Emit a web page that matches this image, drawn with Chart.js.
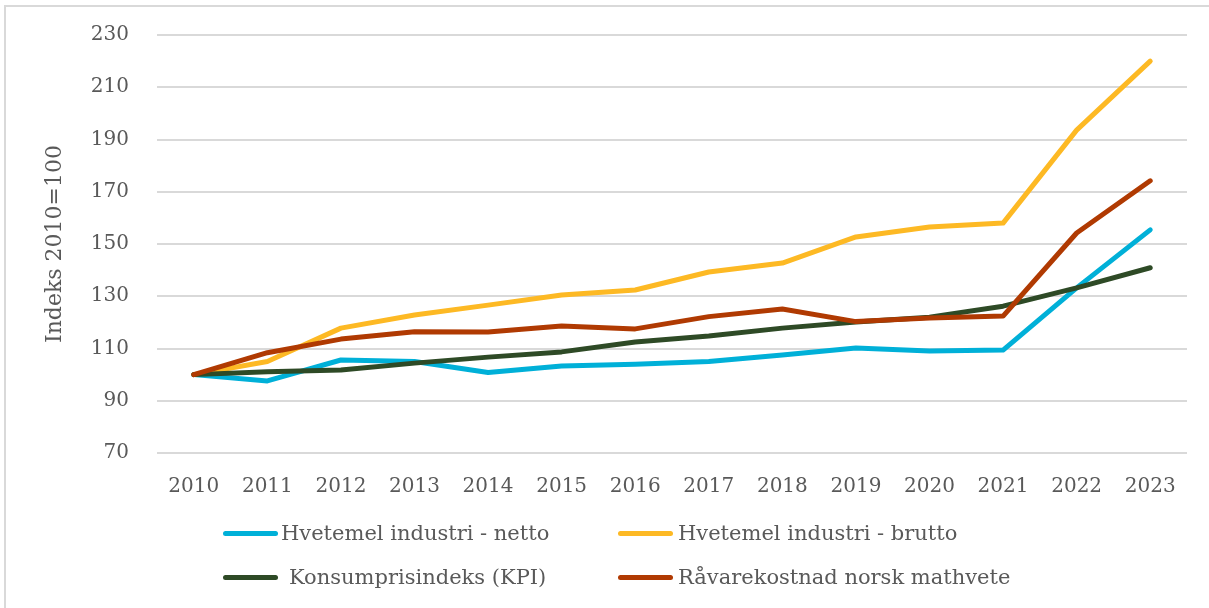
<!DOCTYPE html>
<html>
<head>
<meta charset="utf-8">
<script src="https://cdn.jsdelivr.net/npm/chart.js@4/dist/chart.umd.min.js"></script>
<style>
  html, body { margin: 0; padding: 0; background: #fff; }
  #wrap { position: relative; width: 1209px; height: 608px; overflow: hidden; }
  #frame { position: absolute; left: 4px; top: 5px; width: 1300px; height: 700px;
           border-left: 2px solid #d9d9d9; border-top: 2px solid #d9d9d9; box-sizing: border-box; }
  canvas { position: absolute; left: 0; top: 0; }
  .leg { position: absolute; font-family: "DejaVu Serif", serif; font-size: 21px; color: #595959;
         white-space: nowrap; line-height: 24px; }
  .leg .sw { position: absolute; height: 5px; border-radius: 3px; top: 10px; }
</style>
</head>
<body>
<div id="wrap">
  <div id="frame"></div>
  <canvas id="c" width="1209" height="608"></canvas>
  <div id="legend"></div>
</div>
<script>
const categories = ["2010","2011","2012","2013","2014","2015","2016","2017","2018","2019","2020","2021","2022","2023"];
const netto   = [100, 97.6, 105.6, 105.0, 100.8, 103.3, 104.0, 105.0, 107.5, 110.2, 109.0, 109.4, 133.2, 155.4];
const brutto  = [100, 105.0, 117.8, 122.8, 126.6, 130.5, 132.4, 139.3, 142.7, 152.7, 156.5, 158.0, 193.6, 220.0];
const kpi     = [100, 101.1, 101.8, 104.4, 106.7, 108.7, 112.5, 114.8, 117.8, 120.1, 122.0, 126.2, 133.2, 140.9];
const raavare = [100, 108.4, 113.6, 116.4, 116.3, 118.6, 117.5, 122.2, 125.1, 120.3, 121.7, 122.4, 154.2, 174.2];
const seriesNames = ["Hvetemel industri - netto", "Hvetemel industri - brutto", "Konsumprisindeks (KPI)", "Råvarekostnad norsk mathvete"];
const seriesColors = ["#00B0D8", "#FDB924", "#2E4A26", "#B03A02"];
const yTicks = [70, 90, 110, 130, 150, 170, 190, 210, 230];
const yTitle = "Indeks 2010=100";

const seriesValues = [netto, brutto, kpi, raavare];
const datasets = seriesValues.map((vals, i) => ({
  label: seriesNames[i],
  data: vals,
  borderColor: seriesColors[i],
  backgroundColor: seriesColors[i],
  borderWidth: 5,
  pointRadius: 0,
  tension: 0,
  borderCapStyle: 'round',
  borderJoinStyle: 'round',
  order: 4 - i
}));

const textColor = "#595959";
new Chart(document.getElementById('c'), {
  type: 'line',
  data: { labels: categories, datasets },
  options: {
    responsive: false,
    maintainAspectRatio: false,
    animation: false,
    layout: { padding: { left: 38, top: 35, right: 22, bottom: 0 } },
    plugins: { legend: { display: false }, tooltip: { enabled: false } },
    scales: {
      x: {
        offset: true,
        grid: { display: false, drawTicks: false },
        border: { display: false },
        ticks: { color: textColor, font: { family: "DejaVu Serif", size: 20 }, padding: 22, maxRotation: 0, autoSkip: false },
        afterFit: s => { s.height = 155; }
      },
      y: {
        min: yTicks[0], max: yTicks[yTicks.length - 1],
        afterBuildTicks: s => { s.ticks = yTicks.map(v => ({ value: v })); },
        grid: { color: "#d9d9d9", lineWidth: 2, drawTicks: false },
        border: { display: false },
        ticks: { color: textColor, font: { family: "DejaVu Serif", size: 20 }, padding: 28 },
        title: { display: true, text: yTitle, color: textColor, font: { family: "DejaVu Serif", size: 22 }, padding: { top: 4, bottom: 0 } },
        afterFit: s => { s.width = 119; s.paddingTop = 12; s.paddingBottom = 12; }
      }
    }
  }
});

// legend
const legPos = [
  { sx: 223, tx: 281, y: 533 },
  { sx: 618, tx: 678, y: 533 },
  { sx: 223, tx: 289, y: 577 },
  { sx: 618, tx: 678, y: 577 }
];
const legend = document.getElementById('legend');
seriesNames.forEach((name, i) => {
  const p = legPos[i];
  const sw = document.createElement('div');
  sw.className = 'leg';
  sw.style.left = '0px'; sw.style.top = (p.y - 12) + 'px';
  const line = document.createElement('div');
  line.className = 'sw';
  line.style.left = p.sx + 'px';
  line.style.width = '55px';
  line.style.background = seriesColors[i];
  sw.appendChild(line);
  legend.appendChild(sw);
  const t = document.createElement('div');
  t.className = 'leg';
  t.style.left = p.tx + 'px'; t.style.top = (p.y - 12) + 'px';
  t.textContent = name;
  legend.appendChild(t);
});
</script>
</body>
</html>
